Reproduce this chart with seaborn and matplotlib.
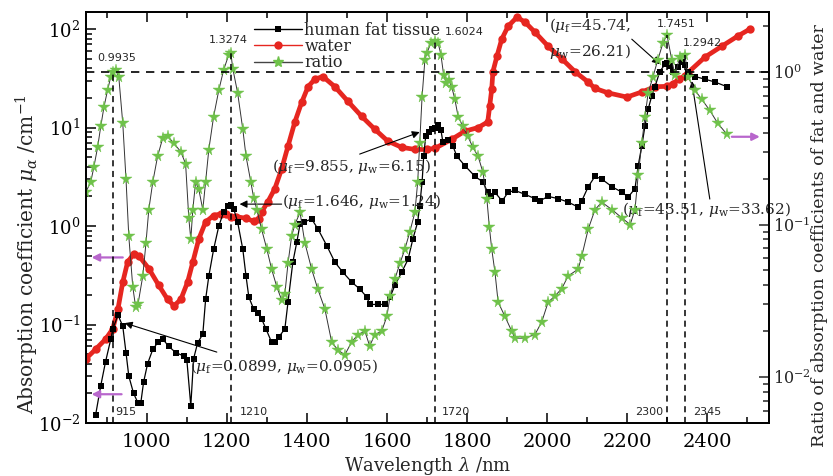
import numpy as np
import pandas as pd
import matplotlib
matplotlib.use("Agg")
import matplotlib.pyplot as plt
import seaborn as sns
from matplotlib.lines import Line2D
from matplotlib.ticker import LogLocator, MultipleLocator, NullFormatter

# ---------------- data ----------------
wl_fat = [872, 885, 897, 910, 915, 928, 940, 948, 955, 967, 978, 985, 992, 1002, 1015,
          1028, 1040, 1055, 1072, 1092, 1100, 1110, 1117, 1127, 1140, 1147, 1155, 1167,
          1180, 1192, 1202, 1210, 1217, 1227, 1240, 1248, 1255, 1267, 1277, 1287, 1298,
          1312, 1320, 1330, 1345, 1353, 1365, 1375, 1383, 1393, 1412, 1428, 1450, 1470,
          1490, 1512, 1532, 1550, 1557, 1578, 1595, 1608, 1620, 1637, 1653, 1665, 1677,
          1682, 1688, 1692, 1697, 1705, 1712, 1720, 1727, 1735, 1740, 1752, 1765, 1775,
          1795, 1820, 1840, 1852, 1860, 1870, 1888, 1903, 1920, 1945, 1970, 1982, 2003,
          2028, 2053, 2078, 2087, 2103, 2120, 2137, 2163, 2188, 2203, 2220, 2228, 2237,
          2245, 2253, 2262, 2270, 2282, 2295, 2300, 2308, 2315, 2327, 2338, 2345, 2352,
          2370, 2395, 2420, 2450]
mu_fat = [0.012, 0.024, 0.042, 0.071, 0.0899, 0.125, 0.096, 0.052, 0.030, 0.020, 0.016,
          0.016, 0.026, 0.040, 0.056, 0.066, 0.071, 0.060, 0.052, 0.048, 0.044, 0.015,
          0.045, 0.065, 0.080, 0.18, 0.31, 0.58, 1.0, 1.39, 1.6, 1.646, 1.5, 1.1, 0.58,
          0.31, 0.19, 0.144, 0.13, 0.114, 0.09, 0.066, 0.066, 0.075, 0.09, 0.17, 0.43,
          0.69, 1.05, 1.1, 1.18, 0.93, 0.63, 0.43, 0.34, 0.27, 0.23, 0.19, 0.16, 0.16,
          0.16, 0.19, 0.25, 0.34, 0.46, 0.74, 1.1, 1.6, 2.8, 5.1, 8.2, 9.0, 9.6, 9.855,
          10.5, 9.5, 7.1, 7.5, 6.5, 5.1, 4.1, 3.2, 2.8, 2.2, 2.0, 2.2, 1.8, 2.2, 2.3, 2.1,
          1.9, 1.8, 2.0, 1.9, 1.75, 1.56, 1.8, 2.5, 3.2, 3.0, 2.5, 2.2, 1.97, 2.4, 4.1,
          6.5, 10.4, 15.4, 21, 26, 37, 44, 45.74, 42, 37, 41, 46, 43.51, 37, 33, 31, 29, 26]

wl_water = [848, 872, 897, 915, 928, 940, 952, 967, 980, 1005, 1030, 1052, 1068, 1085,
            1102, 1115, 1130, 1147, 1167, 1185, 1197, 1210, 1222, 1247, 1267, 1280, 1287,
            1302, 1320, 1337, 1353, 1370, 1387, 1403, 1420, 1440, 1470, 1502, 1537, 1570,
            1602, 1637, 1670, 1700, 1720, 1762, 1795, 1828, 1852, 1857, 1862, 1865, 1875,
            1887, 1903, 1925, 1945, 1970, 2003, 2037, 2070, 2103, 2120, 2153, 2200, 2237,
            2270, 2300, 2315, 2330, 2345, 2352, 2395, 2437, 2477, 2507]
mu_water = [0.045, 0.056, 0.071, 0.0905, 0.144, 0.27, 0.43, 0.52, 0.50, 0.37, 0.25, 0.18,
            0.155, 0.18, 0.27, 0.43, 0.74, 1.1, 1.28, 1.33, 1.32, 1.24, 1.25, 1.2, 1.12,
            1.18, 1.39, 1.75, 2.4, 3.8, 6.5, 11.4, 18, 26, 31, 33, 26, 18.6, 13, 9.6, 7.3,
            6.3, 6.0, 6.0, 6.15, 7.6, 9.2, 10, 11.4, 16.6, 24.6, 37, 53, 79, 107, 132, 118,
            93, 67, 50, 37, 29, 25, 22.5, 20.4, 23, 26, 26.21, 28, 31, 33.62, 36, 52, 67, 85,
            100]

wl_ratio = [848, 860, 868, 877, 885, 893, 902, 910, 915, 922, 930, 940, 948, 955, 965, 972,
            978, 990, 998, 1005, 1015, 1027, 1040, 1052, 1068, 1085, 1097, 1105, 1110, 1115,
            1122, 1130, 1140, 1147, 1155, 1167, 1180, 1192, 1205, 1210, 1215, 1227, 1240,
            1248, 1260, 1267, 1275, 1287, 1300, 1312, 1325, 1337, 1345, 1353, 1362, 1370,
            1383, 1395, 1412, 1427, 1445, 1462, 1478, 1495, 1512, 1528, 1545, 1557, 1570,
            1587, 1600, 1608, 1620, 1633, 1645, 1657, 1670, 1677, 1682, 1688, 1695, 1700,
            1710, 1720, 1728, 1735, 1742, 1748, 1755, 1762, 1770, 1778, 1790, 1802, 1815,
            1828, 1840, 1850, 1856, 1862, 1870, 1878, 1895, 1912, 1920, 1945, 1970, 1987,
            2003, 2020, 2037, 2053, 2078, 2087, 2103, 2120, 2137, 2163, 2188, 2208, 2220,
            2228, 2237, 2245, 2253, 2265, 2277, 2290, 2300, 2312, 2320, 2332, 2345, 2352,
            2370, 2387, 2407, 2427, 2450]
ratio = [0.164, 0.19, 0.24, 0.32, 0.44, 0.59, 0.76, 0.93, 0.9935, 1.03, 0.93, 0.46, 0.20,
         0.084, 0.039, 0.029, 0.030, 0.046, 0.076, 0.125, 0.19, 0.28, 0.37, 0.38, 0.34, 0.30,
         0.25, 0.11, 0.08, 0.125, 0.19, 0.17, 0.125, 0.19, 0.31, 0.51, 0.76, 1.03, 1.3,
         1.3274, 1.05, 0.73, 0.42, 0.28, 0.19, 0.15, 0.125, 0.093, 0.069, 0.051, 0.039,
         0.032, 0.035, 0.056, 0.084, 0.10, 0.12, 0.076, 0.051, 0.038, 0.028, 0.017, 0.015,
         0.014, 0.017, 0.019, 0.020, 0.016, 0.019, 0.020, 0.025, 0.034, 0.044, 0.056, 0.069,
         0.089, 0.12, 0.19, 0.34, 0.69, 1.2, 1.33, 1.55, 1.6024, 1.55, 1.3, 0.95, 0.85, 0.88,
         0.80, 0.66, 0.51, 0.44, 0.38, 0.32, 0.28, 0.22, 0.146, 0.097, 0.069, 0.049, 0.031,
         0.025, 0.020, 0.018, 0.018, 0.019, 0.023, 0.031, 0.034, 0.038, 0.046, 0.051, 0.062,
         0.093, 0.125, 0.14, 0.125, 0.11, 0.10, 0.125, 0.21, 0.34, 0.51, 0.73, 0.93, 1.2,
         1.55, 1.7451, 1.2, 0.95, 1.25, 1.2942, 0.93, 0.76, 0.66, 0.56, 0.46, 0.39]

peak_wl = [915, 1210, 1720, 2300, 2345]
peak_ratio = [0.9935, 1.3274, 1.6024, 1.7451, 1.2942]
peak_ratio_labels = ["0.9935", "1.3274", "1.6024", "1.7451", "1.2942"]
peak_wl_labels = ["915", "1210", "1720", "2300", "2345"]
series_labels = ["human fat tissue", "water", "ratio"]

RED = "#e62620"
GREEN = "#6fc24a"
PURPLE = "#b866cc"

# ---------------- figure ----------------
sns.set_style("ticks")
plt.rcParams["font.family"] = ["DejaVu Serif"]
plt.rcParams["mathtext.fontset"] = "dejavuserif"

fig = plt.figure(figsize=(8.33, 4.76), dpi=100)
ax = fig.add_axes([0.1032, 0.1113, 0.8200, 0.8634])

df_w = pd.DataFrame({"wl": wl_water, "mu": mu_water})
df_f = pd.DataFrame({"wl": wl_fat, "mu": mu_fat})
df_r = pd.DataFrame({"wl": wl_ratio, "r": ratio})

sns.lineplot(data=df_w, x="wl", y="mu", ax=ax, color=RED, lw=3.4, marker="o",
             markersize=6, markeredgewidth=0, legend=False, sort=False)
sns.lineplot(data=df_f, x="wl", y="mu", ax=ax, color="black", lw=0.9, marker="s",
             markersize=5, markeredgewidth=0, legend=False, sort=False)

ax.set_yscale("log")
ax.set_xlim(848, 2555)
ax.set_ylim(0.01, 149)
ax.set_ylabel("")

ax2 = ax.twinx()
sns.lineplot(data=df_r, x="wl", y="r", ax=ax2, color="#333333", lw=0.7, marker="*",
             markersize=8.5, markerfacecolor=GREEN, markeredgecolor=GREEN,
             markeredgewidth=0.3, legend=False, sort=False)
ax2.set_yscale("log")
ax2.set_ylim(0.005, 2.47)
ax2.set_xlim(848, 2555)
ax2.set_ylabel("")

# reference lines
ax2.axhline(1.0, color="black", ls=(0, (5, 4)), lw=1.2)
ax2.vlines(peak_wl, 0.005, peak_ratio, colors="black", linestyles=(0, (4, 3)), lw=1.1)

# ticks
ax.xaxis.set_major_locator(MultipleLocator(200))
ax.xaxis.set_minor_locator(MultipleLocator(100))
ax.yaxis.set_major_locator(LogLocator(base=10, numticks=10))
ax.yaxis.set_minor_locator(LogLocator(base=10, subs=np.arange(2, 10), numticks=20))
ax.yaxis.set_minor_formatter(NullFormatter())
ax2.yaxis.set_major_locator(LogLocator(base=10, numticks=10))
ax2.yaxis.set_minor_locator(LogLocator(base=10, subs=np.arange(2, 10), numticks=20))
ax2.yaxis.set_minor_formatter(NullFormatter())

ax.tick_params(axis="both", which="both", direction="in", top=True, right=False,
               labelsize=14, width=1.1, colors="black")
ax.tick_params(axis="x", which="both", pad=7)
ax.tick_params(axis="y", which="both", labelsize=13, pad=4)
ax.tick_params(which="major", length=7)
ax.tick_params(which="minor", length=4)
ax2.tick_params(axis="y", which="both", direction="in", labelsize=11.5, width=1.1, pad=3)
ax2.tick_params(which="major", length=7)
ax2.tick_params(which="minor", length=4)
for a in (ax, ax2):
    for s in a.spines.values():
        s.set_linewidth(1.3)
        s.set_color("black")

ax.set_xlabel(r"Wavelength $\lambda$ /nm", fontsize=13, labelpad=3)
fig.text(27 / 833, 0.466, r"Absorption coefficient $\mu_{\alpha}$ /cm$^{-1}$", fontsize=14.5,
         rotation=90, ha="center", va="center")
fig.text(820 / 833, 0.506, "Ratio of absorption coefficients of fat and water", fontsize=12.5,
         rotation=90, ha="center", va="center")

# peak value labels
sans = "DejaVu Sans"
pos_top = [(925, 1.23, "center"), (1203, 1.62, "center"), (1745, 1.83, "left"),
           (2322, 2.06, "center"), (2388, 1.55, "center")]
for (x, y, ha), t in zip(pos_top, peak_ratio_labels):
    ax2.text(x, y, t, fontsize=8, family=sans, ha=ha, va="center")
pos_bot = [(920, "left"), (1232, "left"), (1737, "left"), (2290, "right"), (2365, "left")]
for (x, ha), t in zip(pos_bot, peak_wl_labels):
    ax2.text(x, 0.0059, t, fontsize=8, family=sans, ha=ha, va="center")

# annotations (left axis coordinates)
ap = dict(arrowstyle="-|>", color="black", lw=0.8, mutation_scale=11, shrinkA=0, shrinkB=0)
ax.annotate("", xy=(945, 0.1035), xytext=(1175, 0.0525), arrowprops=ap)
ax.text(1107, 0.0377, r"$(\mu_{\rm f}$=0.0899, $\mu_{\rm w}$=0.0905)", fontsize=11, va="center")
ax.annotate("", xy=(1232, 1.67), xytext=(1337, 1.67), arrowprops=ap)
ax.text(1337, 1.79, r"$(\mu_{\rm f}$=1.646, $\mu_{\rm w}$=1.24)", fontsize=11, va="center")
ax.annotate("", xy=(1682, 9.0), xytext=(1532, 5.38), arrowprops=ap)
ax.text(1312, 4.06, r"$(\mu_{\rm f}$=9.855, $\mu_{\rm w}$=6.15)", fontsize=11, va="center")
ax.annotate("", xy=(2282, 44), xytext=(2212, 79), arrowprops=ap)
ax.text(2005, 80, "$(\\mu_{\\rm f}$=45.74,\n$\\mu_{\\rm w}$=26.21)", fontsize=11, va="center",
        linespacing=1.45)
ax.annotate("", xy=(2362, 29.6), xytext=(2407, 1.88), arrowprops=ap)
ax.text(2187, 1.49, r"$(\mu_{\rm f}$=43.51, $\mu_{\rm w}$=33.62)", fontsize=11, va="center")

# purple axis-indicator arrows
pp = dict(arrowstyle="-|>", color=PURPLE, lw=1.6, mutation_scale=11, shrinkA=0, shrinkB=0)
ax.annotate("", xy=(862, 0.48), xytext=(940, 0.48), arrowprops=pp)
ax.annotate("", xy=(862, 0.0196), xytext=(937, 0.0196), arrowprops=pp)
ax2.annotate("", xy=(2532, 0.376), xytext=(2462, 0.376), arrowprops=pp)

# legend
handles = [
    Line2D([], [], color="black", lw=1, marker="s", ms=5, markeredgewidth=0),
    Line2D([], [], color=RED, lw=1, marker="o", ms=6, markeredgewidth=0),
    Line2D([], [], color="#444444", lw=1, marker="*", ms=8, markerfacecolor=GREEN,
           markeredgecolor=GREEN),
]
leg = ax2.legend(handles, series_labels, loc="upper left", bbox_to_anchor=(0.232, 1.0),
                 frameon=False, fontsize=11.5, handlelength=3.0, labelspacing=-0.04,
                 handletextpad=0.15, borderpad=0.1)

fig.savefig("out.png", dpi=100)
